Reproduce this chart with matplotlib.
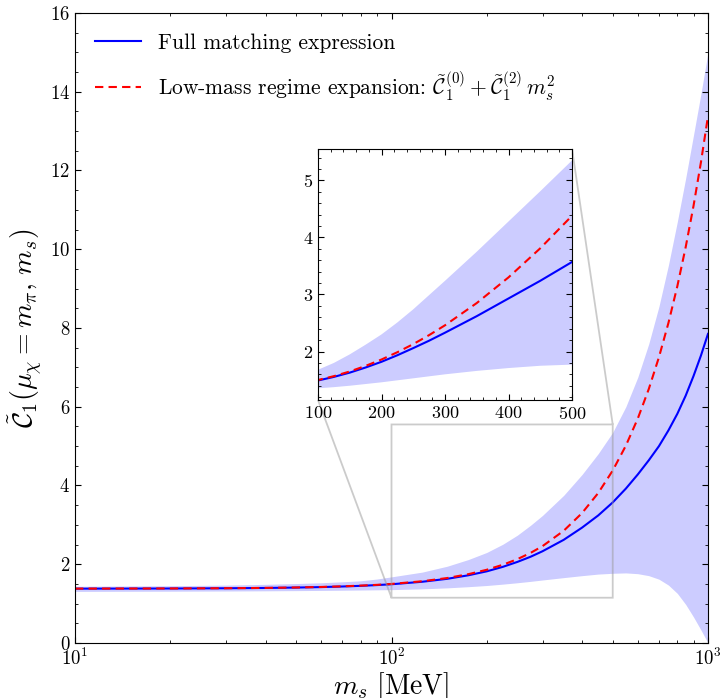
import matplotlib
matplotlib.use("Agg")
import matplotlib.pyplot as plt
from matplotlib.ticker import AutoMinorLocator, MultipleLocator

plt.rcParams["font.family"] = "serif"
plt.rcParams["font.serif"] = ["cmr10"]
plt.rcParams["mathtext.fontset"] = "cm"
plt.rcParams["axes.formatter.use_mathtext"] = True
plt.rcParams["axes.unicode_minus"] = False

# scalar mass grid [MeV]
ms = [10, 20, 30, 40, 50, 60, 70, 80, 90, 100, 125, 150, 175, 200, 225, 250,
      275, 300, 350, 400, 450, 500, 550, 600, 650, 700, 750, 800, 850, 900,
      950, 1000]

# full matching expression
c1_full = [1.380, 1.384, 1.390, 1.398, 1.408, 1.420, 1.435, 1.452, 1.471, 1.492,
           1.555, 1.63, 1.72, 1.82, 1.935, 2.06, 2.19, 2.33, 2.62, 2.93,
           3.24, 3.57, 3.92, 4.28, 4.64, 5.00, 5.40, 5.82, 6.28, 6.78,
           7.30, 7.85]

# low-mass expansion C0 + C2 m_s^2
c1_expand = [1.381, 1.385, 1.391, 1.399, 1.410, 1.423, 1.439, 1.457, 1.477, 1.500,
             1.568, 1.65, 1.748, 1.86, 1.988, 2.13, 2.288, 2.46, 2.85, 3.30,
             3.81, 4.38, 5.01, 5.70, 6.45, 7.26, 8.13, 9.06, 10.05, 11.10,
             12.21, 13.38]

# uncertainty band
band_hi = [1.44, 1.455, 1.47, 1.49, 1.51, 1.53, 1.555, 1.58, 1.625, 1.68,
           1.80, 1.95, 2.12, 2.30, 2.51, 2.74, 2.99, 3.24, 3.75, 4.28,
           4.81, 5.35, 6.00, 6.75, 7.60, 8.55, 9.60, 10.70, 11.80, 12.90,
           13.95, 15.00]
band_lo = [1.31, 1.315, 1.32, 1.325, 1.33, 1.335, 1.34, 1.345, 1.35, 1.355,
           1.375, 1.40, 1.43, 1.46, 1.495, 1.53, 1.565, 1.60, 1.66, 1.71,
           1.75, 1.77, 1.78, 1.76, 1.71, 1.62, 1.47, 1.26, 0.98, 0.66,
           0.33, 0.0]

lbl_full = "Full matching expression"
lbl_expand = (r"Low-mass regime expansion: $\tilde{\mathcal{C}}_1^{(0)}"
              r" + \tilde{\mathcal{C}}_1^{(2)}\, m_s^2$")


def draw(ax, legend=True):
    ax.fill_between(ms, band_lo, band_hi, color="blue", alpha=0.2, lw=0)
    ax.plot(ms, c1_full, color="blue", lw=1.5,
            label=lbl_full if legend else None)
    ax.plot(ms, c1_expand, color="red", lw=1.5, ls=(0, (4, 2.5)),
            label=lbl_expand if legend else None)


def tickstyle(ax, size):
    ax.tick_params(which="both", direction="in", top=True, right=True,
                   labelsize=size)
    ax.tick_params(which="major", length=4.5, width=0.8)
    ax.tick_params(which="minor", length=2.3, width=0.6)


fig = plt.figure(figsize=(7.22, 6.98), dpi=100)
ax = fig.add_axes([0.1039, 0.0788, 0.8767, 0.9026])
draw(ax)
ax.set_xscale("log")
ax.set_xlim(10, 1000)
ax.set_ylim(0, 16)
ax.yaxis.set_major_locator(MultipleLocator(2))
ax.yaxis.set_minor_locator(AutoMinorLocator(4))
tickstyle(ax, 13.5)
ax.set_xlabel(r"$m_s\ [\mathrm{MeV}]$", fontsize=20, labelpad=1)
ax.set_ylabel(r"$\tilde{\mathcal{C}}_1(\mu_\chi = m_\pi,\, m_s)$",
              fontsize=20, labelpad=4)
ax.legend(loc="upper left", frameon=False, fontsize=15.5,
          handlelength=2.1, labelspacing=0.75, borderaxespad=0.55)

# zoomed inset on the 100-500 MeV window
axins = ax.inset_axes([0.3839, 0.3857, 0.4013, 0.3984])
draw(axins, legend=False)
axins.set_xlim(100, 500)
axins.set_ylim(1.15, 5.55)
axins.xaxis.set_major_locator(MultipleLocator(100))
axins.xaxis.set_minor_locator(AutoMinorLocator(5))
axins.yaxis.set_major_locator(MultipleLocator(1))
axins.yaxis.set_minor_locator(AutoMinorLocator(5))
tickstyle(axins, 13)
ind = ax.indicate_inset_zoom(axins, edgecolor="0.6", alpha=0.5, lw=1.3)
# keep only the lower-left and upper-right connector lines
for c, vis in zip(ind.connectors, [True, False, False, True]):
    c.set_visible(vis)

fig.savefig("out.png", dpi=100)
